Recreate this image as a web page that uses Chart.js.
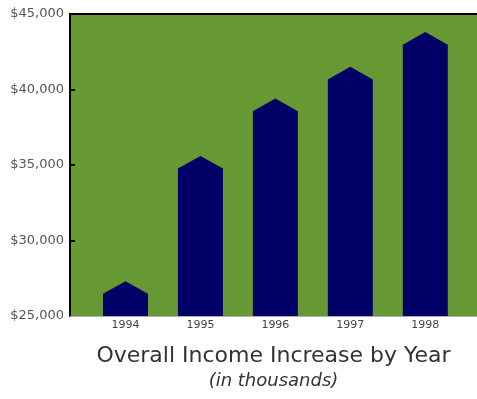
<!DOCTYPE html>
<html>
<head>
<meta charset="utf-8">
<script src="https://cdn.jsdelivr.net/npm/chart.js@4.4.0/dist/chart.umd.min.js"></script>
<style>
  html, body { margin: 0; padding: 0; background: #ffffff; }
  #wrap { width: 477px; height: 399px; }
</style>
</head>
<body>
<div id="wrap"><canvas id="c" width="477" height="399"></canvas></div>
<script>
// ---- data ----
const years = ['1994', '1995', '1996', '1997', '1998'];
const income = [27300, 35600, 39400, 41500, 43800];
const yTicks = [25000, 30000, 35000, 40000, 45000];

const GREEN = '#669933';
const NAVY = '#000066';

const points = income.map((v, i) => ({ x: i + 1, y: v }));

const housePlugin = {
  id: 'house',
  beforeDraw(chart) {
    const { ctx, chartArea: a } = chart;
    ctx.save();
    ctx.fillStyle = GREEN;
    ctx.fillRect(a.left, a.top, a.right - a.left, a.bottom - a.top);
    ctx.restore();
  },
  afterDatasetsDraw(chart) {
    const { ctx, chartArea: a } = chart;
    const meta = chart.getDatasetMeta(0);
    ctx.save();
    ctx.fillStyle = NAVY;
    meta.data.forEach(el => {
      const w = el.width;
      const l = el.x - w / 2, r = el.x + w / 2;
      const roof = w * 0.28;
      const b = Math.min(el.base, a.bottom);
      ctx.beginPath();
      ctx.moveTo(l, b);
      ctx.lineTo(l, el.y + roof);
      ctx.lineTo(el.x, el.y);
      ctx.lineTo(r, el.y + roof);
      ctx.lineTo(r, b);
      ctx.closePath();
      ctx.fill();
    });
    // top border
    ctx.fillStyle = '#000000';
    ctx.fillRect(a.left - 1, a.top - 1, a.right - a.left + 1, 2);
    // bottom line
    ctx.fillStyle = '#a9aec0';
    ctx.fillRect(a.left, a.bottom, a.right - a.left, 1);
    // inner tick marks
    const ys = chart.scales.y;
    ctx.fillStyle = '#000000';
    yTicks.forEach(v => {
      if (v === ys.min || v === ys.max) return;
      const py = ys.getPixelForValue(v);
      ctx.fillRect(a.left, Math.round(py) - 1, 5, 2);
    });
    ctx.restore();
  }
};

new Chart(document.getElementById('c'), {
  type: 'bar',
  data: {
    datasets: [{
      data: points,
      base: 25000,
      backgroundColor: 'rgba(0,0,0,0)',
      borderWidth: 0,
      barThickness: 45
    }]
  },
  options: {
    responsive: false,
    animation: false,
    layout: { padding: { top: 14, right: 0, left: 0, bottom: 7 } },
    plugins: {
      legend: { display: false },
      tooltip: { enabled: false },
      title: {
        display: true,
        position: 'bottom',
        fullSize: false,
        weight: 1000,
        text: 'Overall Income Increase by Year',
        color: '#333333',
        font: { family: 'DejaVu Sans', size: 22, weight: 'normal', lineHeight: 1.2 },
        padding: { top: 7, bottom: 0 }
      },
      subtitle: {
        display: true,
        position: 'bottom',
        fullSize: false,
        weight: 2000,
        text: '(in thousands)',
        color: '#333333',
        font: { family: 'DejaVu Sans', size: 18, style: 'italic', weight: 'normal', lineHeight: 1.2 },
        padding: { top: 1, bottom: 0 }
      }
    },
    scales: {
      x: {
        type: 'linear',
        offset: false,
        min: 0.26,
        max: 5.69,
        grid: { display: false, drawTicks: false },
        border: { display: false },
        afterFit(s) { s.height = 20; },
        afterBuildTicks(s) { s.ticks = years.map((y, i) => ({ value: i + 1 })); },
        ticks: {
          color: '#444444',
          padding: 3,
          autoSkip: false,
          maxRotation: 0,
          font: { family: 'DejaVu Sans', size: 11 },
          callback: (v) => years[Math.round(v) - 1] || ''
        }
      },
      y: {
        min: 25000,
        max: 45000,
        grid: { display: false, drawTicks: false },
        border: { display: true, color: '#000000', width: 2 },
        afterFit(s) { s.width = 70; },
        afterBuildTicks(s) { s.ticks = yTicks.map(v => ({ value: v })); },
        ticks: {
          color: '#555555',
          padding: 6,
          font: { family: 'DejaVu Sans', size: 13 },
          callback: (v) => '$' + v.toLocaleString('en-US')
        }
      }
    }
  },
  plugins: [housePlugin]
});
</script>
</body>
</html>
